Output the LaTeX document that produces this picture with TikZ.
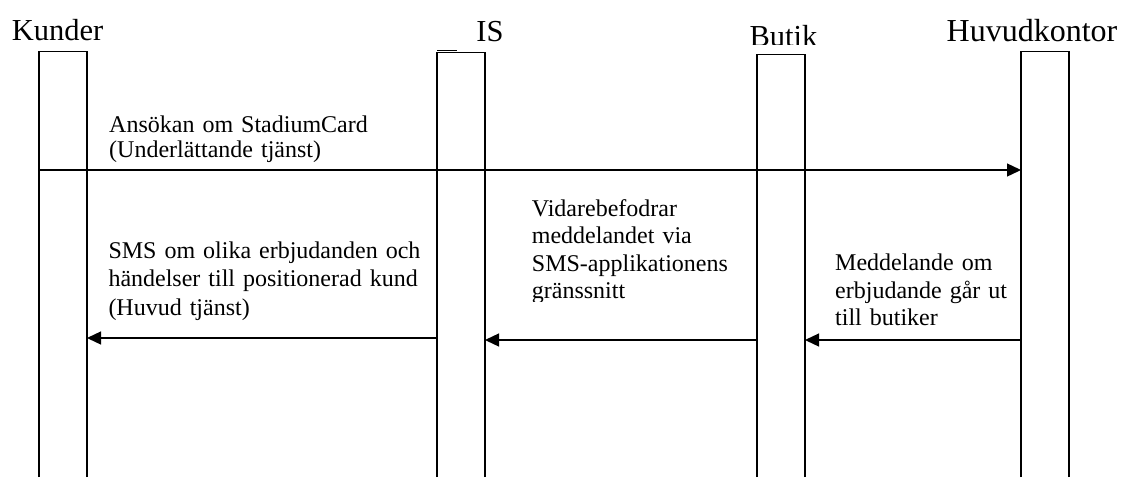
\documentclass[tikz,border=0pt]{standalone}
\usepackage{fontspec}
\setmainfont{Liberation Serif}
\usetikzlibrary{arrows.meta}

\begin{document}
\begin{tikzpicture}[x=1pt,y=-1pt,
  side/.style={line width=1.4pt},
  capline/.style={line width=0.8pt},
  msg/.style={line width=1.3pt,-{Triangle[length=14pt,width=13pt]}},
  actor/.style={inner sep=0pt,anchor=base,font=\fontsize{30.5}{34}\selectfont},
  note/.style={inner sep=0pt,anchor=base west,align=left,text width=340pt}]

\useasboundingbox (0,0) rectangle (1121,477);

% lifeline bars: left side, right side, top
\foreach \nm/\xl/\xr/\tp in {kun/39/87/51, is/437/485/52, but/757/805/54, hk/1021/1069/51}{
  \coordinate (\nm-lt) at (\xl,\tp);
  \coordinate (\nm-rt) at (\xr,\tp);
  \coordinate (\nm-lb) at (\xl,477);
  \coordinate (\nm-rb) at (\xr,477);
  \draw[side] (\nm-lb) -- (\nm-lt);
  \draw[side] (\nm-rb) -- (\nm-rt);
  \draw[capline] (\nm-lt) -- (\nm-rt);
}
\coordinate (is-tick) at (457,50);
\draw[capline] (437,50) -- (is-tick);

% actor names
\node[actor] (kunder) at (57.5,40.7) {Kunder};
\node[actor] (is) at (490,41) {IS};
\begin{scope}
  \clip (700,0) rectangle (860,44.5);
  \node[actor] (butik) at (783.5,46.8) {Butik};
\end{scope}
\node[actor,font=\fontsize{32}{36}\selectfont] (hk) at (1032,41.7) {Huvudkontor};

% messages
\coordinate (m1s) at (39,170);   \coordinate (m1e) at (1021,170);
\coordinate (m2s) at (437,338);  \coordinate (m2e) at (87,338);
\coordinate (m3s) at (757,340);  \coordinate (m3e) at (485,340);
\coordinate (m4s) at (1021,340); \coordinate (m4e) at (805,340);
\draw[msg] (m1s) -- (m1e);
\draw[msg] (m2s) -- (m2e);
\draw[msg] (m3s) -- (m3e);
\draw[msg] (m4s) -- (m4e);

% message texts
\node[note,font=\fontsize{24}{24.5}\selectfont] (t1) at (109,132.5)
  {Ansökan om StadiumCard\\(Underlättande tjänst)};
\node[note,font=\fontsize{24}{28.4}\selectfont] (t2) at (108.3,258.3)
  {SMS om olika erbjudanden och\\händelser till positionerad kund\\(Huvud tjänst)};
\begin{scope}
  \clip (500,180) rectangle (755,301.5);
  \node[note,font=\fontsize{24}{27.5}\selectfont] (t3) at (531.7,216)
    {Vidarebefodrar\\meddelandet via\\SMS-applikationens\\gränssnitt};
\end{scope}
\node[note,font=\fontsize{24}{27.5}\selectfont] (t4) at (835,270.5)
  {Meddelande om\\erbjudande går ut\\till butiker};

\end{tikzpicture}
\end{document}
